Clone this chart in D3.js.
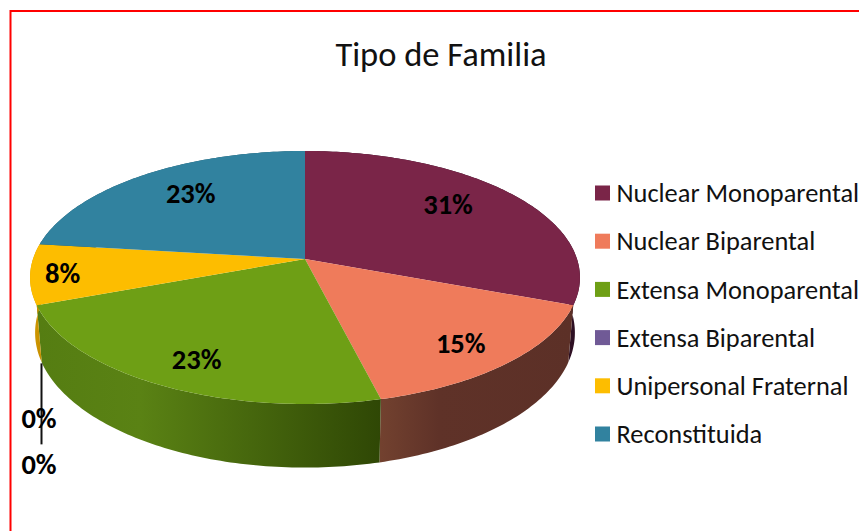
<!DOCTYPE html>
<html>
<head>
<meta charset="utf-8">
<script src="https://cdn.jsdelivr.net/npm/d3@7"></script>
<style>
  html, body { margin: 0; padding: 0; background: #fff; overflow: hidden; }
  text { font-family: Carlito, Lato, sans-serif; fill: #111; }
</style>
</head>
<body>
<div id="chart"></div>
<script>
const chartTitle = 'Tipo de Familia';
const categories = ['Nuclear Monoparental', 'Nuclear Biparental', 'Extensa Monoparental',
  'Extensa Biparental', 'Unipersonal Fraternal', 'Reconstituida'];
const values = [30.8, 15.4, 23.1, 0, 7.7, 23.1];
const strayLabels = ['0%'];

const topColors = ['#7a2548', '#ef7b5b', '#6e9f15', '#705a96', '#fdbd00', '#31829f'];
const sideLeft = ['#2e1023', '#72412f', '#557d12', '#4b3c66', '#d8a200', '#21586b'];
const sideMid = ['#2e1023', '#5f3228', '#5a8214', '#4b3c66', '#d09a00', '#21586b'];
const sideRight = ['#2e1023', '#5c3027', '#2f4705', '#4b3c66', '#c89000', '#21586b'];

const width = 859, height = 531;

// pie is tilted with a bit of perspective, apex sits above the ellipse centre
const persp = 0.1463;
const topDisk = { cx: 305, cy: 259, a: 272, b: 123.8 };
const bottomDisk = { cx: 305, cy: 313, a: 267, b: 132 };

function project(disk, angle, r) {
  const u = Math.sin(angle) * r;
  const v = -Math.cos(angle) * r;
  const w = 1 - persp * v;
  return [disk.cx + disk.a * u / w, disk.cy + disk.b * v / w];
}

const svg = d3.select('#chart').append('svg')
  .attr('width', width)
  .attr('height', height);

svg.append('path')
  .attr('d', `M10.5,${height + 5}V11H${width + 5}`)
  .attr('fill', 'none')
  .attr('stroke', '#ff0000')
  .attr('stroke-width', 2);

svg.append('text')
  .attr('x', 441)
  .attr('y', 66)
  .attr('text-anchor', 'middle')
  .style('font-size', '34.5px')
  .text(chartTitle);

const slices = d3.pie().sort(null)(values);
const defs = svg.append('defs');

function arcPoints(disk, a0, a1) {
  const n = Math.max(2, Math.ceil((a1 - a0) * 60));
  return d3.range(n + 1).map(i => project(disk, a0 + (a1 - a0) * i / n, 1));
}

const line = d3.line();

// side walls first, the top covers whatever faces backwards
const g = svg.append('g');
slices.forEach((s, i) => {
  if (s.value === 0) return;
  const outer = arcPoints(topDisk, s.startAngle, s.endAngle);
  const inner = arcPoints(bottomDisk, s.startAngle, s.endAngle).reverse();
  const xs = outer.map(p => p[0]);
  const grad = defs.append('linearGradient')
    .attr('id', 'side' + i)
    .attr('gradientUnits', 'userSpaceOnUse')
    .attr('x1', d3.min(xs)).attr('x2', d3.max(xs))
    .attr('y1', 0).attr('y2', 0);
  grad.append('stop').attr('offset', 0).attr('stop-color', sideLeft[i]);
  grad.append('stop').attr('offset', 0.3).attr('stop-color', sideMid[i]);
  grad.append('stop').attr('offset', 1).attr('stop-color', sideRight[i]);
  g.append('path')
    .attr('d', line(outer.concat(inner)) + 'Z')
    .attr('fill', `url(#side${i})`);
});

slices.forEach((s, i) => {
  if (s.value === 0) return;
  const pts = [[topDisk.cx, topDisk.cy]].concat(arcPoints(topDisk, s.startAngle, s.endAngle));
  g.append('path')
    .attr('d', line(pts) + 'Z')
    .attr('fill', topColors[i]);
});

// leader for the empty slice, hangs off the lower rim
const zero = slices[values.indexOf(0)];
const rim = project(bottomDisk, zero.startAngle, 1);
svg.append('line')
  .attr('x1', 41.5).attr('x2', 41.5)
  .attr('y1', rim[1] + 1).attr('y2', rim[1] + 82)
  .attr('stroke', '#111')
  .attr('stroke-width', 2);

const labelNudge = [[-5, -8], [19, 14], [-11, 16], [0, 0], [-51, 3], [3, -6]];
slices.forEach((s, i) => {
  const mid = (s.startAngle + s.endAngle) / 2;
  const p = project(topDisk, mid, 0.7);
  let x = p[0] + labelNudge[i][0];
  let y = p[1] + labelNudge[i][1];
  if (s.value === 0) { x = 39; y = rim[1] + 56; }
  svg.append('text')
    .attr('x', x)
    .attr('y', y)
    .attr('dy', '0.35em')
    .attr('text-anchor', 'middle')
    .style('font-size', '28.5px')
    .style('font-weight', 700)
    .style('fill', '#000')
    .text(Math.round(s.value) + '%');
});

strayLabels.forEach(t => {
  svg.append('text')
    .attr('x', 39)
    .attr('y', rim[1] + 102)
    .attr('dy', '0.35em')
    .attr('text-anchor', 'middle')
    .style('font-size', '28.5px')
    .style('font-weight', 700)
    .style('fill', '#000')
    .text(t);
});

const legendY = d3.scalePoint().domain(categories).range([193, 434]);
const legend = svg.append('g').selectAll('g')
  .data(categories)
  .enter().append('g')
  .attr('transform', d => `translate(595,${legendY(d)})`);

legend.append('rect')
  .attr('y', -7.5)
  .attr('width', 15)
  .attr('height', 15)
  .attr('fill', (d, i) => topColors[i]);

legend.append('text')
  .attr('x', 21.5)
  .attr('dy', '0.35em')
  .style('font-size', '26.4px')
  .text(d => d);
</script>
</body>
</html>
